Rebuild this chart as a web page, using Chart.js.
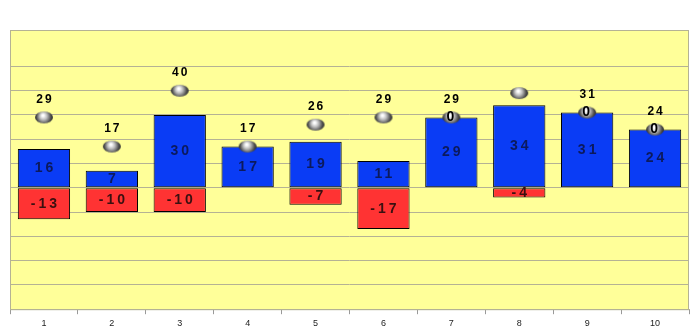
<!DOCTYPE html>
<html>
<head>
<meta charset="utf-8">
<script src="https://cdn.jsdelivr.net/npm/chart.js@4"></script>
<style>
  body { margin: 0; background: #ffffff; }
  #wrap { width: 694px; height: 335px; position: relative; }
</style>
</head>
<body>
<div id="wrap"><canvas id="chart"></canvas></div>
<script>
const categories = ["1", "2", "3", "4", "5", "6", "7", "8", "9", "10"];
const upValues = [16, 7, 30, 17, 19, 11, 29, 34, 31, 24];
const downValues = [-13, -10, -10, 0, -7, -17, 0, -4, 0, 0];
const markValues = [29, 17, 40, 17, 26, 29, 29, 39, 31, 24];
const markLabels = ["29", "17", "40", "17", "26", "29", "29", "", "31", "24"];
const markTags = ["", "", "", "", "", "", "0", "", "0", "0"];

// little grey shiny ball used as the point marker
function makeBall() {
  const c = document.createElement("canvas");
  c.width = 20;
  c.height = 14;
  const g = c.getContext("2d");
  const grad = g.createRadialGradient(9, 5, 1, 10, 7, 10);
  grad.addColorStop(0, "#ffffff");
  grad.addColorStop(0.3, "#bdbdbd");
  grad.addColorStop(0.7, "#4a4a4a");
  grad.addColorStop(1, "#1e1e1e");
  g.fillStyle = grad;
  g.beginPath();
  g.ellipse(10, 7, 9, 6, 0, 0, Math.PI * 2);
  g.fill();
  return c;
}

const plotBox = {
  id: "plotBox",
  beforeDraw(chart) {
    const { ctx, chartArea: a } = chart;
    ctx.save();
    ctx.fillStyle = "#ffff99";
    ctx.fillRect(a.left, a.top, a.right - a.left, a.bottom - a.top);
    ctx.restore();
  },
  afterDraw(chart) {
    const { ctx, chartArea: a } = chart;
    ctx.save();
    ctx.strokeStyle = "#b5b294";
    ctx.lineWidth = 1;
    ctx.strokeRect(a.left + 0.5, a.top + 0.5, a.right - a.left - 1, a.bottom - a.top);
    ctx.restore();
  }
};

const valueText = {
  id: "valueText",
  afterDatasetsDraw(chart) {
    const ctx = chart.ctx;
    ctx.save();
    ctx.textAlign = "center";
    ctx.textBaseline = "middle";

    ctx.font = "bold 14px Arial, 'Liberation Sans', sans-serif";
    ctx.letterSpacing = "3px";
    chart.getDatasetMeta(0).data.forEach((bar, i) => {
      if (!upValues[i]) return;
      ctx.fillStyle = "#0c1a5c";
      ctx.fillText(String(upValues[i]), bar.x + 1.5, (bar.y + bar.base) / 2);
    });
    chart.getDatasetMeta(1).data.forEach((bar, i) => {
      if (!downValues[i]) return;
      ctx.fillStyle = "#3a1010";
      ctx.fillText(String(downValues[i]), bar.x + 1.5, (bar.y + bar.base) / 2);
    });

    ctx.font = "bold 12px Arial, 'Liberation Sans', sans-serif";
    ctx.letterSpacing = "2px";
    ctx.fillStyle = "#000000";
    chart.getDatasetMeta(2).data.forEach((pt, i) => {
      if (markLabels[i]) ctx.fillText(markLabels[i], pt.x + 1, pt.y - 18);
    });
    ctx.font = "bold 14px Arial, 'Liberation Sans', sans-serif";
    ctx.letterSpacing = "0px";
    chart.getDatasetMeta(2).data.forEach((pt, i) => {
      if (markTags[i]) ctx.fillText(markTags[i], pt.x - 1, pt.y);
    });
    ctx.restore();
  }
};

new Chart(document.getElementById("chart"), {
  data: {
    labels: categories,
    datasets: [
      {
        type: "bar",
        data: upValues,
        backgroundColor: "#0a3cf5",
        borderColor: "#000000",
        borderWidth: 1,
        borderSkipped: false,
        stack: "s",
        barPercentage: 0.77,
        categoryPercentage: 1,
        order: 2
      },
      {
        type: "bar",
        data: downValues,
        backgroundColor: "#ff3333",
        borderColor: "#000000",
        borderWidth: 1,
        borderSkipped: false,
        stack: "s",
        barPercentage: 0.77,
        categoryPercentage: 1,
        order: 2
      },
      {
        type: "line",
        data: markValues,
        showLine: false,
        pointStyle: makeBall(),
        order: 1
      }
    ]
  },
  options: {
    responsive: true,
    maintainAspectRatio: false,
    animation: false,
    layout: { padding: { left: 10, right: 1, top: 30, bottom: 2 } },
    plugins: {
      legend: { display: false },
      tooltip: { enabled: false }
    },
    scales: {
      x: {
        stacked: true,
        grid: {
          offset: true,
          drawOnChartArea: false,
          drawTicks: true,
          tickLength: 5,
          color: "#999999"
        },
        border: { color: "#b5b294" },
        ticks: {
          color: "#222222",
          font: { size: 9, family: "Arial, 'Liberation Sans', sans-serif" },
          padding: 4
        }
      },
      y: {
        stacked: true,
        min: -50,
        max: 65,
        ticks: { display: false, stepSize: 10 },
        grid: { color: "#b5b294", drawTicks: false },
        border: { display: false }
      }
    }
  },
  plugins: [plotBox, valueText]
});
</script>
</body>
</html>
